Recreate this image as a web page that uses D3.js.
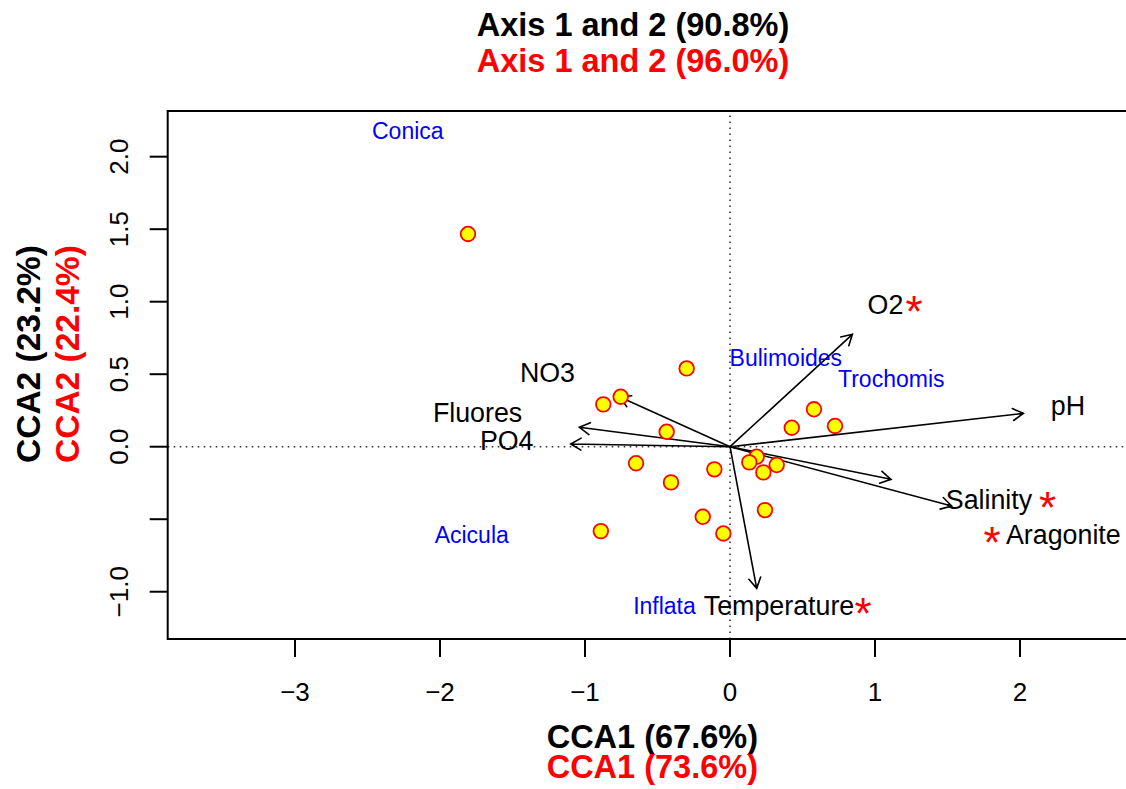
<!DOCTYPE html>
<html>
<head>
<meta charset="utf-8">
<script src="https://cdn.jsdelivr.net/npm/d3@7"></script>
<style>
  html, body { margin: 0; padding: 0; background: #fff; }
  svg { display: block; font-family: "Liberation Sans", Arial, sans-serif; }
</style>
</head>
<body>
<svg id="chart" width="1126" height="789"></svg>
<script>
// CCA biplot: site scores (points), environmental vectors (arrows), species labels

// Site scores (CCA1, CCA2)
const siteX = [-1.807, -0.299, -0.754, -0.874, -0.437, 0.426, 0.579, 0.724, -0.648, -0.407,
               -0.108, 0.184, 0.133, 0.230, 0.322, 0.241, -0.188, -0.046, -0.891];
const siteY = [1.467, 0.540, 0.345, 0.292, 0.103, 0.131, 0.258, 0.143, -0.114, -0.246,
               -0.156, -0.069, -0.108, -0.177, -0.126, -0.437, -0.483, -0.598, -0.582];

// Environmental vectors: arrow tips and label anchors
const envNames  = ["O2", "pH", "Salinity", "Aragonite", "Temperature", "NO3", "Fluores", "PO4"];
const envX      = [0.844, 2.023, 1.529, 1.110, 0.184, -0.760, -1.039, -1.099];
const envY      = [0.775, 0.230, -0.409, -0.225, -0.977, 0.343, 0.134, 0.019];
const envLabelX = [1.072, 2.331, 1.786, 2.299, 0.338, -1.259, -1.741, -1.540];
const envLabelY = [0.983, 0.281, -0.362, -0.603, -1.093, 0.511, 0.235, 0.040];

// Significant variables marked with an asterisk
const starX = [1.269, 2.190, 1.807, 0.917];
const starY = [0.977, -0.379, -0.621, -1.112];

// Species labels
const speciesNames = ["Conica", "Bulimoides", "Trochomis", "Acicula", "Inflata"];
const speciesX = [-2.222, 0.385, 1.112, -1.781, -0.452];
const speciesY = [2.174, 0.611, 0.464, -0.608, -1.101];

// Axis ticks
const xTicks = [-3, -2, -1, 0, 1, 2];
const xTickLabels = ["\u22123", "\u22122", "\u22121", "0", "1", "2"];
const yTicks = [-1.0, -0.5, 0.0, 0.5, 1.0, 1.5, 2.0];
const yTickLabels = ["\u22121.0", "", "0.0", "0.5", "1.0", "1.5", "2.0"];

// Titles
const titleLines = ["Axis 1 and 2 (90.8%)", "Axis 1 and 2 (96.0%)"];
const xLabLines = ["CCA1 (67.6%)", "CCA1 (73.6%)"];
const yLabLines = ["CCA2 (23.2%)", "CCA2 (22.4%)"];
const lineColors = ["#000000", "#FF0000"];

const svg = d3.select("#chart");

const plotLeft = 167.7, plotTop = 111, plotBottom = 639;
const x = d3.scaleLinear().domain([-3.878, 2.8]).range([plotLeft, plotLeft + 6.678 * 145]);
const y = d3.scaleLinear().domain([-1.326, 2.315]).range([plotBottom, plotTop]);

// Zero reference lines (dotted)
svg.append("line")
  .attr("x1", x(-3.878)).attr("x2", x(2.8))
  .attr("y1", y(0)).attr("y2", y(0))
  .attr("stroke", "#333").attr("stroke-width", 1.6)
  .attr("stroke-dasharray", "1.6,4.4");
svg.append("line")
  .attr("x1", x(0)).attr("x2", x(0))
  .attr("y1", y(-1.326)).attr("y2", y(2.315))
  .attr("stroke", "#333").attr("stroke-width", 1.6)
  .attr("stroke-dasharray", "1.6,4.4");

// Environmental arrows
const headLen = 12, headAng = Math.PI / 6;
const arrows = svg.append("g").attr("stroke", "#000").attr("stroke-width", 1.6)
  .attr("fill", "none").attr("stroke-linecap", "round");
envNames.forEach((n, i) => {
  const x0 = x(0), y0 = y(0), x1 = x(envX[i]), y1 = y(envY[i]);
  const a = Math.atan2(y1 - y0, x1 - x0);
  const p = d3.path();
  p.moveTo(x0, y0); p.lineTo(x1, y1);
  p.moveTo(x1 - headLen * Math.cos(a - headAng), y1 - headLen * Math.sin(a - headAng));
  p.lineTo(x1, y1);
  p.lineTo(x1 - headLen * Math.cos(a + headAng), y1 - headLen * Math.sin(a + headAng));
  arrows.append("path").attr("d", p.toString());
});

// Site points
svg.append("g").selectAll("circle")
  .data(siteX.map((v, i) => [v, siteY[i]]))
  .join("circle")
  .attr("cx", d => x(d[0])).attr("cy", d => y(d[1]))
  .attr("r", 7.3)
  .attr("fill", "#FFFF00").attr("stroke", "#FF0000").attr("stroke-width", 1.8);

// Environmental labels
svg.append("g").selectAll("text")
  .data(envNames)
  .join("text")
  .attr("x", (d, i) => x(envLabelX[i]))
  .attr("y", (d, i) => y(envLabelY[i]))
  .attr("dy", "0.35em")
  .attr("text-anchor", "middle")
  .attr("font-size", 26.8)
  .attr("fill", "#000")
  .text(d => d);

// Asterisks
svg.append("g").selectAll("text")
  .data(starX)
  .join("text")
  .attr("x", (d, i) => x(d))
  .attr("y", (d, i) => y(starY[i]) + 21.5)
  .attr("text-anchor", "middle")
  .attr("font-size", 44)
  .attr("fill", "#FF0000")
  .text("*");

// Species labels
svg.append("g").selectAll("text")
  .data(speciesNames)
  .join("text")
  .attr("x", (d, i) => x(speciesX[i]))
  .attr("y", (d, i) => y(speciesY[i]))
  .attr("dy", "0.35em")
  .attr("text-anchor", "middle")
  .attr("font-size", 23)
  .attr("fill", "#0000FF")
  .text(d => d);

// Plot frame
svg.append("rect")
  .attr("x", plotLeft).attr("y", plotTop)
  .attr("width", x(2.8) - plotLeft).attr("height", plotBottom - plotTop)
  .attr("fill", "none").attr("stroke", "#000").attr("stroke-width", 2);

// Bottom axis
const gx = svg.append("g");
xTicks.forEach((t, i) => {
  gx.append("line").attr("x1", x(t)).attr("x2", x(t))
    .attr("y1", plotBottom).attr("y2", plotBottom + 18)
    .attr("stroke", "#000").attr("stroke-width", 2);
  gx.append("text").attr("x", x(t)).attr("y", 701)
    .attr("text-anchor", "middle").attr("font-size", 26).text(xTickLabels[i]);
});

// Left axis
const gy = svg.append("g");
yTicks.forEach((t, i) => {
  gy.append("line").attr("x1", plotLeft - 18).attr("x2", plotLeft)
    .attr("y1", y(t)).attr("y2", y(t))
    .attr("stroke", "#000").attr("stroke-width", 2);
  if (yTickLabels[i]) {
    gy.append("text")
      .attr("transform", `translate(128,${y(t)}) rotate(-90)`)
      .attr("text-anchor", "middle").attr("font-size", 26).text(yTickLabels[i]);
  }
});

// Title lines
titleLines.forEach((s, i) => {
  svg.append("text").attr("x", 633).attr("y", 36 + i * 36)
    .attr("text-anchor", "middle").attr("font-size", 32.5).attr("font-weight", "bold")
    .attr("fill", lineColors[i]).text(s);
});

// X axis title lines
xLabLines.forEach((s, i) => {
  svg.append("text").attr("x", 758).attr("y", 748 + i * 30)
    .attr("text-anchor", "end").attr("font-size", 32.5).attr("font-weight", "bold")
    .attr("fill", lineColors[i]).text(s);
});

// Y axis title lines
yLabLines.forEach((s, i) => {
  svg.append("text")
    .attr("transform", `translate(${40 + i * 39},463) rotate(-90)`)
    .attr("text-anchor", "start").attr("font-size", 33.5).attr("font-weight", "bold")
    .attr("fill", lineColors[i]).text(s);
});
</script>
</body>
</html>
